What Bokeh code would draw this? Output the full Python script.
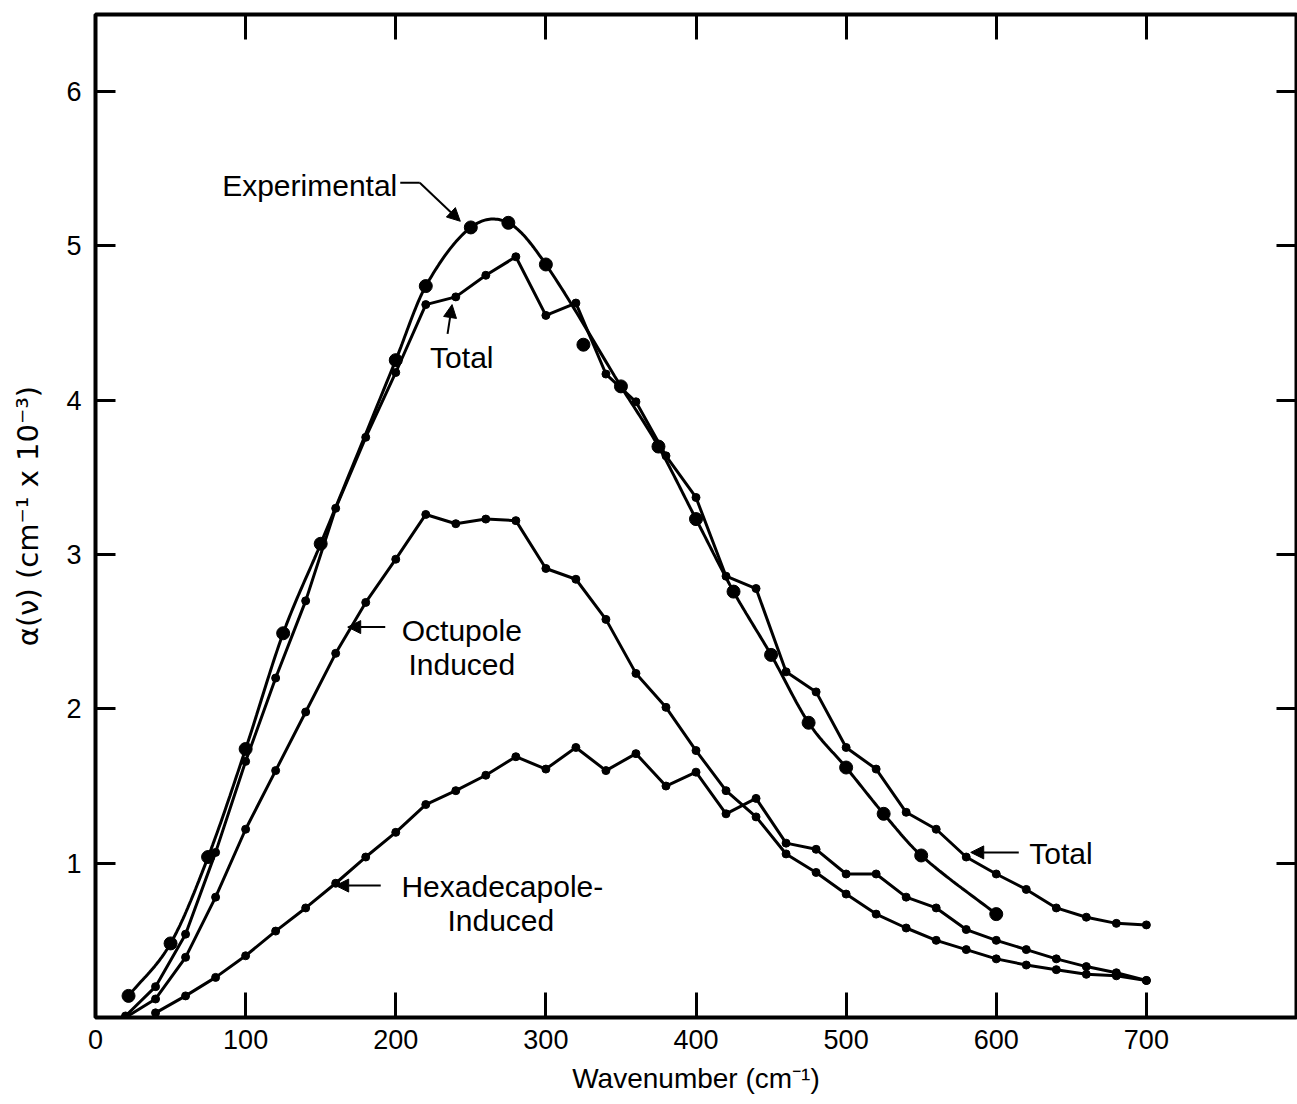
import numpy as np
from bokeh.plotting import figure
from bokeh.models import (Range1d, FixedTicker, LinearAxis, Label, Arrow, NormalHead,
                          CustomJSTickFormatter)
from bokeh.embed import file_html
from bokeh.resources import INLINE

# ---------------- data ----------------
theory_x = [20, 40, 60, 80, 100, 120, 140, 160, 180, 200, 220, 240, 260, 280, 300,
            320, 340, 360, 380, 400, 420, 440, 460, 480, 500, 520, 540, 560, 580, 600,
            620, 640, 660, 680, 700]
total_y = [0.01, 0.20, 0.54, 1.07, 1.66, 2.20, 2.70, 3.30, 3.76, 4.18, 4.62, 4.67, 4.81, 4.93, 4.55,
           4.63, 4.17, 3.99, 3.64, 3.37, 2.86, 2.78, 2.24, 2.11, 1.75, 1.61, 1.33, 1.22, 1.04, 0.93,
           0.83, 0.71, 0.65, 0.61, 0.60]
octupole_y = [0.00, 0.12, 0.39, 0.78, 1.22, 1.60, 1.98, 2.36, 2.69, 2.97, 3.26, 3.20, 3.23, 3.22, 2.91,
              2.84, 2.58, 2.23, 2.01, 1.73, 1.47, 1.30, 1.06, 0.94, 0.80, 0.67, 0.58, 0.50, 0.44, 0.38,
              0.34, 0.31, 0.28, 0.27, 0.24]
hexa_x = [40, 60, 80, 100, 120, 140, 160, 180, 200, 220, 240, 260, 280, 300,
          320, 340, 360, 380, 400, 420, 440, 460, 480, 500, 520, 540, 560, 580, 600,
          620, 640, 660, 680, 700]
hexa_y = [0.03, 0.14, 0.26, 0.40, 0.56, 0.71, 0.87, 1.04, 1.20, 1.38, 1.47, 1.57, 1.69, 1.61,
          1.75, 1.60, 1.71, 1.50, 1.59, 1.32, 1.42, 1.13, 1.09, 0.93, 0.93, 0.78, 0.71, 0.57, 0.50,
          0.44, 0.38, 0.33, 0.29, 0.24]
exp_x = [22, 50, 75, 100, 125, 150, 200, 220, 250, 275, 300, 325, 350, 375, 400, 425, 450,
         475, 500, 525, 550, 600]
exp_y = [0.14, 0.48, 1.04, 1.74, 2.49, 3.07, 4.26, 4.74, 5.12, 5.15, 4.88, 4.36, 4.09, 3.70,
         3.23, 2.76, 2.35, 1.91, 1.62, 1.32, 1.05, 0.67]
exp_on_curve = [True] * 11 + [False] + [True] * 10

x_ticks = [0, 100, 200, 300, 400, 500, 600, 700]
y_ticks = [1, 2, 3, 4, 5, 6]

FONT = "Liberation Sans"

# smooth curve through the experimental points (cubic Hermite, finite-difference slopes)
cx = np.array([x for x, k in zip(exp_x, exp_on_curve) if k], dtype=float)
cy = np.array([y for y, k in zip(exp_y, exp_on_curve) if k], dtype=float)
m = np.empty_like(cy)
m[0] = (cy[1] - cy[0]) / (cx[1] - cx[0])
m[-1] = (cy[-1] - cy[-2]) / (cx[-1] - cx[-2])
m[1:-1] = (cy[2:] - cy[:-2]) / (cx[2:] - cx[:-2])
sx, sy = [], []
t = np.linspace(0, 1, 25)
for i in range(len(cx) - 1):
    h = cx[i + 1] - cx[i]
    h00 = 2 * t**3 - 3 * t**2 + 1
    h10 = t**3 - 2 * t**2 + t
    h01 = -2 * t**3 + 3 * t**2
    h11 = t**3 - t**2
    sx.extend(list(cx[i] + t * h))
    sy.extend(list(h00 * cy[i] + h10 * h * m[i] + h01 * cy[i + 1] + h11 * h * m[i + 1]))

# ---------------- figure ----------------
p = figure(width=1297, height=1104, x_range=Range1d(0, 800), y_range=Range1d(0, 6.5),
           output_backend="svg", toolbar_location=None,
           min_border_left=95, min_border_top=14, min_border_right=1, min_border_bottom=87)
p.background_fill_color = "white"
p.border_fill_color = "white"
p.xgrid.visible = False
p.ygrid.visible = False
p.outline_line_color = "black"
p.outline_line_width = 4

xa = p.xaxis[0]
xa.ticker = FixedTicker(ticks=x_ticks)
xa.major_label_overrides = {v: str(v) for v in x_ticks}
xa.major_tick_in = 25
xa.major_tick_out = 0
xa.minor_tick_in = 0
xa.minor_tick_out = 0
xa.major_tick_line_width = 3
xa.axis_line_color = None
xa.major_label_text_font = FONT
xa.major_label_text_font_size = "27px"
xa.major_label_text_color = "black"
xa.major_label_standoff = 12
xa.axis_label = "Wavenumber (cm⁻¹)"
xa.axis_label_text_font = FONT
xa.axis_label_text_font_size = "28px"
xa.axis_label_text_font_style = "normal"
xa.axis_label_text_color = "black"
xa.axis_label_standoff = 11

ya = p.yaxis[0]
ya.ticker = FixedTicker(ticks=y_ticks)
ya.major_tick_in = 20
ya.major_tick_out = 0
ya.minor_tick_in = 0
ya.minor_tick_out = 0
ya.major_tick_line_width = 3
ya.axis_line_color = None
ya.major_label_text_font = FONT
ya.major_label_text_font_size = "27px"
ya.major_label_text_color = "black"
ya.major_label_standoff = 14
ya.axis_label = "α(ν) (cm⁻¹ x 10⁻³)"
ya.axis_label_text_font = "DejaVu Sans"
ya.axis_label_text_font_size = "29px"
ya.axis_label_text_font_style = "normal"
ya.axis_label_text_color = "black"
ya.axis_label_standoff = 18

blank = CustomJSTickFormatter(code="return ''")
top = LinearAxis(ticker=FixedTicker(ticks=x_ticks[1:]), major_tick_in=25, major_tick_out=0,
                 minor_tick_in=0, minor_tick_out=0, major_tick_line_width=3,
                 axis_line_color=None, formatter=blank, major_label_standoff=0)
p.add_layout(top, "above")
right = LinearAxis(ticker=FixedTicker(ticks=y_ticks), major_tick_in=20, major_tick_out=0,
                   minor_tick_in=0, minor_tick_out=0, major_tick_line_width=3,
                   axis_line_color=None, formatter=blank, major_label_standoff=0)
p.add_layout(right, "right")

# ---------------- series ----------------
p.line(theory_x, total_y, line_color="black", line_width=3)
p.scatter(theory_x, total_y, size=8, color="black")
p.line(theory_x, octupole_y, line_color="black", line_width=3)
p.scatter(theory_x, octupole_y, size=8, color="black")
p.line(hexa_x, hexa_y, line_color="black", line_width=3)
p.scatter(hexa_x, hexa_y, size=8, color="black")
p.line(sx, sy, line_color="black", line_width=3)
p.scatter(exp_x, exp_y, size=13, color="black")

# ---------------- annotations ----------------
def label(x, y, text, align="center"):
    p.add_layout(Label(x=x, y=y, text=text, text_align=align, text_baseline="middle",
                       text_font=FONT, text_font_size="30px", text_color="black"))

def arrow(x0, y0, x1, y1):
    p.add_layout(Arrow(x_start=x0, y_start=y0, x_end=x1, y_end=y1, line_width=2,
                       line_color="black",
                       end=NormalHead(size=13, fill_color="black", line_color="black",
                                      line_width=1)))

label(201, 5.39, "Experimental", "right")
p.line([203, 216], [5.41, 5.41], line_color="black", line_width=2)
arrow(216, 5.41, 243, 5.16)

label(244, 4.28, "Total")
arrow(234.5, 4.43, 237.5, 4.62)

label(244, 2.51, "Octupole")
label(244, 2.29, "Induced")
arrow(193, 2.53, 168, 2.53)

label(271, 0.85, "Hexadecapole-")
label(270, 0.63, "Induced")
arrow(190, 0.855, 160, 0.855)

label(622, 1.06, "Total", "left")
arrow(615, 1.07, 583, 1.07)

open("out.html", "w").write(file_html(p, INLINE))
